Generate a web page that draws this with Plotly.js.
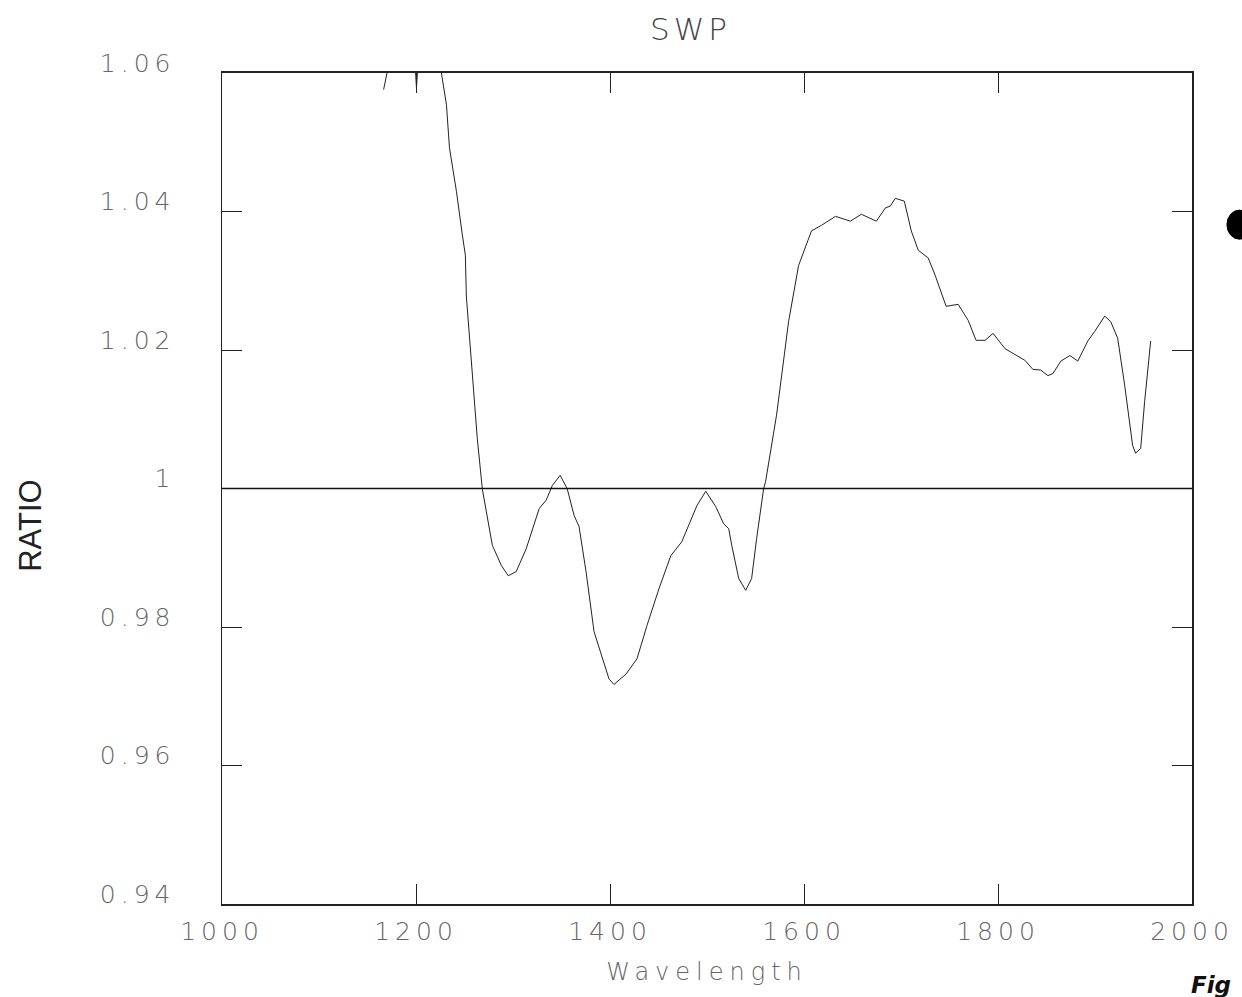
<!DOCTYPE html>
<html>
<head>
<meta charset="utf-8">
<script src="https://cdn.plot.ly/plotly-3.0.1.min.js"></script>
<style>
html,body{margin:0;padding:0;background:#fff;}
#chart{width:1242px;height:997px;}
#chart .xtick text, #chart .ytick text{letter-spacing:5px;}
#chart .xtitle{letter-spacing:6px;}
#chart .gtitle{letter-spacing:4px;}
</style>
</head>
<body>
<div id="chart"></div>
<script>
// Wavelength (x) and ratio (y)
const wavelength = [1166.6, 1170.7, 1180, 1195, 1199.5, 1200.5, 1201.5, 1212, 1226.2, 1231.4, 1234.5, 1241.7, 1247.8, 1250.9, 1251.9, 1263.2, 1268.4, 1278.7, 1287.9, 1295.1, 1303.3, 1313.6, 1327.0, 1334.2, 1340.4, 1348.6, 1355.8, 1363.0, 1368.1, 1375.3, 1383.6, 1393.8, 1399.0, 1404.1, 1411.3, 1416.5, 1427.8, 1438.1, 1450.4, 1462.7, 1474.0, 1489.5, 1498.7, 1509.0, 1517.2, 1522.4, 1525.5, 1532.7, 1539.9, 1546.0, 1551.2, 1558.4, 1560.4, 1571.7, 1584.1, 1594.4, 1607.7, 1618.0, 1632.4, 1647.8, 1659.1, 1674.6, 1683.8, 1689.0, 1694.1, 1703.4, 1710.6, 1717.8, 1728.0, 1735.2, 1746.5, 1758.9, 1769.2, 1777.4, 1786.7, 1794.9, 1807.2, 1818.5, 1827.8, 1836.0, 1844.2, 1851.4, 1856.6, 1864.8, 1874.1, 1882.3, 1892.6, 1899.8, 1910.0, 1916.2, 1923.4, 1930.6, 1938.8, 1941.9, 1947.1, 1951.2, 1957.4];
const ratio = [1.0576, 1.0604, 1.0720, 1.0700, 1.0602, 1.0578, 1.0602, 1.0750, 1.0600, 1.0554, 1.0492, 1.0429, 1.0366, 1.0337, 1.0278, 1.0072, 0.9999, 0.9918, 0.9889, 0.9874, 0.9880, 0.9913, 0.9971, 0.9983, 1.0004, 1.0019, 1.0000, 0.9961, 0.9945, 0.9880, 0.9793, 0.9750, 0.9725, 0.9717, 0.9725, 0.9732, 0.9754, 0.9802, 0.9855, 0.9903, 0.9923, 0.9975, 0.9996, 0.9974, 0.9949, 0.9942, 0.9918, 0.9870, 0.9853, 0.9870, 0.9928, 1.0000, 1.0010, 1.0106, 1.0241, 1.0322, 1.0372, 1.0380, 1.0393, 1.0386, 1.0396, 1.0386, 1.0405, 1.0408, 1.0419, 1.0415, 1.0372, 1.0344, 1.0333, 1.0308, 1.0263, 1.0266, 1.0243, 1.0214, 1.0214, 1.0224, 1.0202, 1.0192, 1.0185, 1.0172, 1.0171, 1.0163, 1.0166, 1.0184, 1.0192, 1.0184, 1.0213, 1.0227, 1.0249, 1.0241, 1.0217, 1.0149, 1.0062, 1.0051, 1.0058, 1.0126, 1.0213];

const xTicks = [1000, 1200, 1400, 1600, 1800, 2000];
const yTicks = [0.94, 0.96, 0.98, 1.00, 1.02, 1.04, 1.06];
const yTickLabels = ['0.94', '0.96', '0.98', '1', '1.02', '1.04', '1.06'];

const tickFont = {family: 'DejaVu Sans', size: 25, color: '#666', weight: 200};

const traces = [
  {x: wavelength, y: ratio, type: 'scatter', mode: 'lines',
   line: {color: '#222', width: 1}, hoverinfo: 'x+y', showlegend: false}
];

const layout = {
  width: 1242, height: 997,
  paper_bgcolor: '#fff', plot_bgcolor: '#fff',
  margin: {l: 222, r: 50, t: 73, b: 93},
  title: {text: 'SWP', x: 0.556, xanchor: 'center', y: 0.982, yanchor: 'top',
          font: {family: 'DejaVu Sans', size: 31, color: '#444', weight: 200}},
  xaxis: {
    range: [1000, 2000], tickvals: xTicks, ticktext: xTicks.map(String),
    ticks: 'inside', ticklen: 20, tickwidth: 1, tickcolor: '#222',
    mirror: 'ticks', showline: true, linecolor: '#222', linewidth: 2,
    showgrid: false, zeroline: false, tickfont: tickFont, ticklabelstandoff: 4,
    title: {text: 'Wavelength', font: {family: 'DejaVu Sans', size: 24, color: '#666', weight: 200}, standoff: 18}
  },
  yaxis: {
    range: [0.94, 1.06], tickvals: yTicks, ticktext: yTickLabels,
    ticks: 'inside', ticklen: 20, tickwidth: 1, tickcolor: '#222',
    mirror: 'ticks', showline: true, linecolor: '#222', linewidth: 1.5,
    showgrid: false, zeroline: false, tickfont: tickFont, ticklabelstandoff: 40,
    ticklabelshift: -10
  },
  shapes: [
    {type: 'line', xref: 'paper', yref: 'y', x0: 0, x1: 1, y0: 1, y1: 1,
     line: {color: '#111', width: 1.5}},
    {type: 'circle', xref: 'paper', yref: 'paper', x0: 1.036, x1: 1.062, y0: 0.80, y1: 0.835,
     fillcolor: '#000', line: {color: '#000', width: 1}}
  ],
  annotations: [
    {text: 'RATIO', xref: 'paper', yref: 'paper', x: -0.197, y: 0.455, xanchor: 'center', yanchor: 'middle',
     textangle: -90, showarrow: false,
     font: {family: 'Liberation Sans Narrow, Liberation Sans', size: 31, color: '#222'}},
    {text: '<b><i>Fig</i></b>', xref: 'paper', yref: 'paper', x: 0.997, y: -0.098, xanchor: 'left', yanchor: 'middle',
     showarrow: false, font: {family: 'DejaVu Sans', size: 23, color: '#111'}}
  ]
};

Plotly.newPlot('chart', traces, layout, {displayModeBar: false, staticPlot: true});
</script>
</body>
</html>
